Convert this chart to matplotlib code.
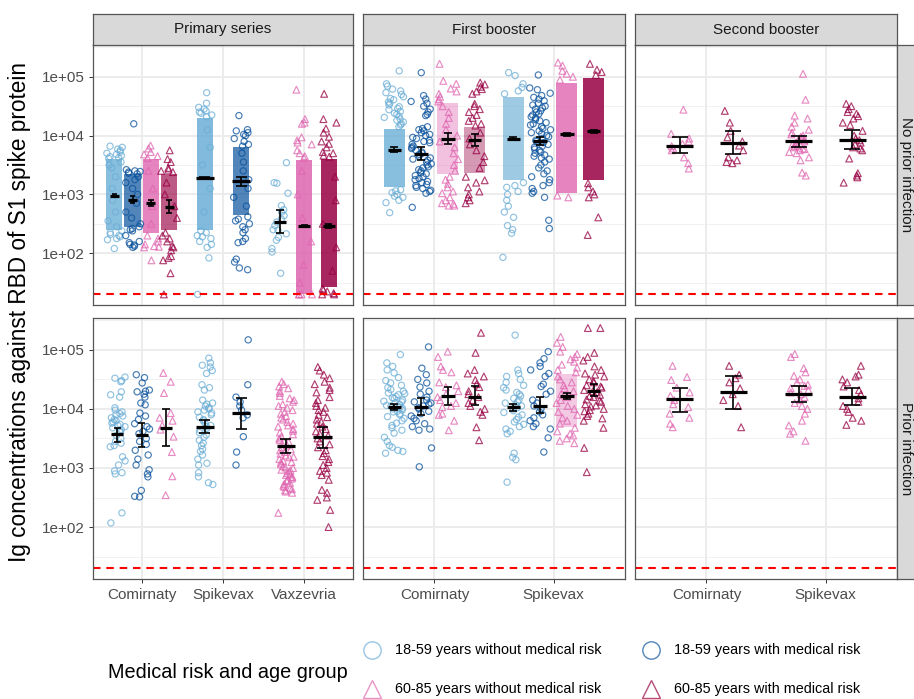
import numpy as np
import matplotlib
matplotlib.use("Agg")
import matplotlib.pyplot as plt
from matplotlib.lines import Line2D
from matplotlib.ticker import NullLocator

plt.rcParams['font.family'] = ['Liberation Sans', 'DejaVu Sans']

# ---------------- data ----------------
vaccines_primary = ["Comirnaty", "Spikevax", "Vaxzevria"]
vaccines_booster = ["Comirnaty", "Spikevax"]
group_labels = ["18-59 years without medical risk", "18-59 years with medical risk",
                "60-85 years without medical risk", "60-85 years with medical risk"]
row_labels = ["No prior infection", "Prior infection"]
col_labels = ["Primary series", "First booster", "Second booster"]
lloq = 20
y_ticks = [1e2, 1e3, 1e4, 1e5]
y_tick_labels = ["1e+02", "1e+03", "1e+04", "1e+05"]

# summary rows: (vaccine, group index, log10 GMC, log10 lower CI, log10 upper CI)
summary_noprior_primary = [
    ("Comirnaty", 0, 2.98, 2.96, 3.00),
    ("Comirnaty", 1, 2.91, 2.85, 2.97),
    ("Comirnaty", 2, 2.85, 2.80, 2.90),
    ("Comirnaty", 3, 2.79, 2.69, 2.90),
    ("Spikevax", 0, 3.28, 3.26, 3.30),
    ("Spikevax", 1, 3.22, 3.14, 3.30),
    ("Vaxzevria", 0, 2.53, 2.34, 2.73),
    ("Vaxzevria", 2, 2.46, 2.44, 2.48),
    ("Vaxzevria", 3, 2.46, 2.43, 2.49),
]
summary_noprior_first = [
    ("Comirnaty", 0, 3.76, 3.72, 3.80),
    ("Comirnaty", 1, 3.69, 3.58, 3.81),
    ("Comirnaty", 2, 3.95, 3.85, 4.05),
    ("Comirnaty", 3, 3.92, 3.82, 4.03),
    ("Spikevax", 0, 3.95, 3.93, 3.97),
    ("Spikevax", 1, 3.91, 3.84, 3.98),
    ("Spikevax", 2, 4.02, 4.00, 4.04),
    ("Spikevax", 3, 4.07, 4.04, 4.10),
]
summary_noprior_second = [
    ("Comirnaty", 2, 3.83, 3.70, 3.97),
    ("Comirnaty", 3, 3.88, 3.68, 4.08),
    ("Spikevax", 2, 3.90, 3.80, 4.00),
    ("Spikevax", 3, 3.93, 3.78, 4.10),
]
summary_prior_primary = [
    ("Comirnaty", 0, 3.57, 3.44, 3.68),
    ("Comirnaty", 1, 3.56, 3.36, 3.76),
    ("Comirnaty", 2, 3.68, 3.37, 4.00),
    ("Spikevax", 0, 3.69, 3.59, 3.81),
    ("Spikevax", 1, 3.93, 3.66, 4.19),
    ("Vaxzevria", 2, 3.37, 3.25, 3.49),
    ("Vaxzevria", 3, 3.53, 3.34, 3.69),
]
summary_prior_first = [
    ("Comirnaty", 0, 4.03, 3.98, 4.08),
    ("Comirnaty", 1, 4.04, 3.90, 4.19),
    ("Comirnaty", 2, 4.22, 4.07, 4.37),
    ("Comirnaty", 3, 4.20, 4.07, 4.39),
    ("Spikevax", 0, 4.03, 3.97, 4.09),
    ("Spikevax", 1, 4.05, 3.93, 4.20),
    ("Spikevax", 2, 4.22, 4.17, 4.27),
    ("Spikevax", 3, 4.31, 4.22, 4.42),
]
summary_prior_second = [
    ("Comirnaty", 2, 4.17, 3.95, 4.36),
    ("Comirnaty", 3, 4.29, 4.00, 4.56),
    ("Spikevax", 2, 4.25, 4.12, 4.39),
    ("Spikevax", 3, 4.20, 4.07, 4.36),
]

# densely packed parts of a cloud read as a band: (log10 low, log10 high, visual density)
cores_noprior_primary = [(2.40, 3.60, 0.8), (2.45, 3.35, 0.7), (2.35, 3.60, 0.8), (2.40, 3.35, 0.65),
                         (2.40, 4.30, 0.85), (2.65, 3.80, 0.7), None, (1.30, 3.58, 0.85), (1.42, 3.60, 0.85)]
cores_noprior_first = [(3.12, 4.12, 0.8), None, (3.35, 4.55, 0.4), (3.36, 4.14, 0.4),
                       (3.25, 4.65, 0.65), None, (3.03, 4.90, 0.8), (3.24, 4.98, 0.85)]
cores_noprior_second = [None, None, None, None]
cores_prior_primary = [None, None, None, None, None, None, None]
cores_prior_first = [None, None, None, None, None, None, (3.70, 4.60, 0.35), None]
cores_prior_second = [None, None, None, None]

# individual measurements (log10 concentration), same order as the summaries
points_noprior_primary = [
    [3.82, 3.80, 3.77, 3.75, 3.72, 3.70, 3.68, 3.66, 3.64, 3.62, 3.61, 3.55, 3.50, 3.45, 3.30, 3.10, 2.90,
     2.70, 2.55, 2.45, 2.38, 2.35, 2.32, 2.30, 2.28, 2.25, 2.23, 2.08],
    [4.20, 3.42, 3.40, 3.39, 3.38, 3.36, 3.35, 3.30, 3.25, 3.20, 3.10, 3.00, 2.85, 2.70, 2.60, 2.50, 2.45,
     2.42, 2.40, 2.38, 2.30, 2.20, 2.18, 2.15, 2.12, 2.14, 2.10],
    [3.83, 3.78, 3.72, 3.68, 3.65, 3.62, 3.40, 3.10, 2.80, 2.50, 2.30, 2.25, 2.20, 2.15, 2.12, 2.10, 2.11, 1.88],
    [3.75, 3.60, 3.55, 3.45, 3.42, 3.40, 3.38, 3.20, 3.00, 2.80, 2.60, 2.35, 2.30, 2.25, 2.20, 2.12, 2.10,
     2.05, 1.95, 1.88, 1.92, 1.66, 1.30],
    [4.73, 4.55, 4.48, 4.45, 4.42, 4.40, 4.38, 4.35, 4.32, 4.10, 3.80, 3.50, 3.10, 2.70, 2.38, 2.35, 2.30,
     2.28, 2.25, 2.20, 2.15, 2.10, 1.92, 1.30],
    [4.34, 4.10, 4.08, 4.05, 4.02, 4.00, 3.95, 3.90, 3.85, 3.82, 3.70, 3.55, 3.40, 3.25, 3.10, 2.95, 2.80,
     2.62, 2.58, 2.55, 2.50, 2.45, 2.40, 2.35, 2.25, 2.20, 2.18, 1.90, 1.85, 1.75, 1.72],
    [3.54, 3.19, 3.20, 3.02, 2.81, 2.74, 2.70, 2.64, 2.58, 2.53, 2.47, 2.40, 2.39, 2.33, 2.27, 2.22, 2.08,
     2.02, 1.66],
    [4.78, 4.28, 4.22, 4.20, 3.97, 3.92, 3.88, 3.85, 3.75, 3.70, 3.65, 3.62, 3.40, 3.00, 2.60, 2.20, 1.80,
     1.50, 1.30, 1.30, 1.30, 1.30],
    [4.71, 4.28, 4.22, 4.12, 4.05, 3.98, 3.90, 3.86, 3.80, 3.72, 3.70, 3.66, 3.64, 3.30, 2.90, 2.50, 2.10,
     1.70, 1.40, 1.38, 1.35, 1.32, 1.30, 1.30],
]
points_noprior_first = [
    [5.10, 4.88, 4.84, 4.79, 4.76, 4.73, 4.70, 4.66, 4.63, 4.61, 4.57, 4.55, 4.52, 4.49, 4.46, 4.44, 4.41,
     4.38, 4.36, 4.33, 4.31, 4.28, 4.26, 4.23, 4.20, 4.18, 4.15, 3.08, 3.06, 3.03, 3.00, 2.97, 2.95, 2.90,
     2.86, 2.69],
    [5.07, 4.68, 4.62, 4.58, 4.55, 4.50, 4.45, 4.40, 4.36, 4.34, 4.15, 4.12, 4.10, 4.08, 4.05, 4.02, 4.00,
     3.97, 3.95, 3.92, 3.90, 3.88, 3.85, 3.82, 3.80, 3.78, 3.75, 3.72, 3.70, 3.68, 3.65, 3.62, 3.60, 3.58,
     3.55, 3.52, 3.50, 3.47, 3.45, 3.42, 3.40, 3.37, 3.35, 3.32, 3.30, 3.27, 3.25, 3.22, 3.20, 3.17, 3.15,
     3.12, 3.10, 3.07, 3.05, 3.02, 2.78],
    [5.22, 4.93, 4.88, 4.80, 4.75, 4.71, 4.66, 4.62, 4.58, 4.50, 4.40, 4.30, 4.20, 4.10, 4.00, 3.90, 3.80,
     3.70, 3.60, 3.50, 3.40, 3.30, 3.25, 3.18, 3.12, 3.05, 3.02, 2.95, 2.90, 2.85, 2.81, 2.81, 2.84],
    [4.90, 4.87, 4.83, 4.79, 4.75, 4.71, 4.54, 4.50, 4.45, 4.40, 4.35, 4.30, 4.25, 4.20, 4.17, 4.05, 3.95,
     3.85, 3.75, 3.65, 3.55, 3.45, 3.30, 3.24, 3.20, 3.12, 3.05, 3.00, 2.95, 2.90, 2.85],
    [5.07, 5.02, 4.88, 4.82, 4.76, 4.71, 3.20, 3.15, 3.12, 3.05, 3.00, 2.90, 2.80, 2.70, 2.61, 2.47, 2.40,
     2.34, 1.93],
    [5.03, 4.81, 4.78, 4.72, 4.68, 4.65, 4.62, 4.59, 4.55, 4.52, 4.50, 4.47, 4.45, 4.42, 4.40, 4.37, 4.35,
     4.32, 4.30, 4.27, 4.25, 4.22, 4.20, 4.18, 4.15, 4.12, 4.10, 4.08, 4.05, 4.03, 4.00, 3.98, 3.95, 3.92,
     3.90, 3.88, 3.85, 3.82, 3.80, 3.77, 3.75, 3.72, 3.70, 3.67, 3.65, 3.62, 3.60, 3.55, 3.50, 3.45, 3.40,
     3.35, 3.30, 3.25, 3.20, 3.15, 3.10, 3.05, 3.02, 2.95, 2.56, 2.42],
    [5.24, 5.19, 5.10, 5.05, 5.00, 4.95, 2.98, 2.95],
    [5.22, 5.12, 5.08, 5.03, 3.19, 3.12, 3.05, 3.00, 2.95, 2.61, 2.31],
]
points_noprior_second = [
    [4.44, 4.03, 3.95, 3.90, 3.86, 3.82, 3.78, 3.75, 3.63, 3.53, 3.44],
    [4.42, 4.22, 4.08, 3.97, 3.90, 3.83, 3.75, 3.63, 3.58, 3.53, 3.55],
    [5.05, 4.61, 4.34, 4.29, 4.22, 4.15, 4.10, 4.05, 4.02, 4.00, 3.98, 3.95, 3.93, 3.92, 3.90, 3.88, 3.87,
     3.85, 3.83, 3.82, 3.80, 3.78, 3.77, 3.75, 3.72, 3.70, 3.63, 3.58, 3.37, 3.32],
    [4.54, 4.50, 4.45, 4.40, 4.37, 4.33, 4.29, 4.22, 4.18, 4.08, 4.00, 3.95, 3.92, 3.88, 3.85, 3.80, 3.78,
     3.75, 3.61, 3.36, 3.32, 3.29, 3.20],
]
points_prior_primary = [
    [4.54, 4.52, 4.48, 4.46, 4.29, 4.24, 4.20, 4.02, 3.98, 3.95, 3.92, 3.90, 3.88, 3.85, 3.82, 3.80, 3.78,
     3.76, 3.74, 3.72, 3.70, 3.68, 3.65, 3.62, 3.60, 3.55, 3.50, 3.45, 3.42, 3.38, 3.36, 3.19, 3.12, 3.05,
     2.95, 2.92, 2.90, 2.24, 2.07],
    [4.58, 4.53, 4.44, 4.32, 4.29, 4.30, 4.25, 4.20, 4.10, 4.07, 3.93, 3.88, 3.82, 3.75, 3.70, 3.66, 3.62,
     3.58, 3.50, 3.45, 3.40, 3.30, 3.22, 3.15, 3.05, 2.97, 2.90, 2.85, 2.62, 2.52, 2.51],
    [4.61, 4.46, 4.27, 3.93, 3.85, 3.80, 3.72, 3.65, 3.53, 3.27, 2.86, 2.54],
    [4.86, 4.78, 4.74, 4.71, 4.65, 4.60, 4.41, 4.36, 4.32, 4.15, 4.10, 4.08, 4.05, 4.02, 4.00, 3.98, 3.95,
     3.93, 3.90, 3.86, 3.82, 3.80, 3.76, 3.72, 3.70, 3.67, 3.64, 3.60, 3.56, 3.52, 3.47, 3.42, 3.38, 3.32,
     3.28, 3.22, 3.15, 3.08, 3.05, 2.92, 2.85, 2.75, 2.72],
    [5.17, 4.41, 4.20, 4.12, 4.05, 3.98, 3.90, 3.85, 3.53, 3.27, 3.05],
    [4.46, 4.42, 4.38, 4.35, 4.30, 4.27, 4.22, 4.18, 4.15, 4.12, 4.08, 4.05, 4.02, 3.98, 3.95, 3.92, 3.88,
     3.85, 3.82, 3.78, 3.75, 3.72, 3.70, 3.66, 3.63, 3.60, 3.57, 3.53, 3.50, 3.47, 3.44, 3.41, 3.38, 3.35,
     3.32, 3.30, 3.27, 3.24, 3.21, 3.18, 3.15, 3.12, 3.10, 3.06, 3.03, 3.00, 2.97, 2.94, 2.91, 2.88, 2.85,
     2.82, 2.78, 2.75, 2.70, 2.66, 2.62, 2.58, 3.01, 2.96, 2.89, 3.09, 3.19, 2.84, 2.79, 2.73, 2.68, 2.64,
     2.60, 2.24],
    [4.71, 4.65, 4.58, 4.52, 4.46, 4.42, 4.36, 4.32, 4.28, 4.20, 4.15, 4.10, 4.05, 4.02, 3.98, 3.95, 3.90,
     3.86, 3.82, 3.78, 3.75, 3.70, 3.66, 3.62, 3.58, 3.55, 3.50, 3.45, 3.40, 3.35, 3.30, 3.25, 3.20, 3.15,
     3.10, 3.05, 3.00, 2.95, 2.92, 2.88, 2.80, 2.63, 2.58, 2.50, 2.46, 2.29, 2.00],
]
points_prior_first = [
    [4.92, 4.78, 4.72, 4.66, 4.61, 4.53, 4.48, 4.44, 4.40, 4.36, 4.33, 4.30, 4.27, 4.24, 4.21, 4.18, 4.15,
     4.12, 4.10, 4.08, 4.05, 4.03, 4.00, 3.98, 3.95, 3.92, 3.90, 3.87, 3.84, 3.80, 3.76, 3.72, 3.68, 3.64,
     3.59, 3.52, 3.45, 3.38, 3.30, 3.25, 3.28, 3.35, 4.26, 4.19, 4.13, 4.06, 4.01, 3.96],
    [5.05, 4.69, 4.58, 4.50, 4.44, 4.37, 4.30, 4.25, 4.20, 4.15, 4.12, 4.10, 4.08, 4.05, 4.02, 4.00, 3.96,
     3.92, 3.88, 3.84, 3.80, 3.75, 3.70, 3.66, 3.64, 3.34, 3.02],
    [4.97, 4.88, 4.72, 4.66, 4.62, 4.45, 4.40, 4.37, 4.30, 4.25, 4.20, 4.15, 4.10, 4.05, 4.03, 3.92, 3.90,
     3.80, 3.64],
    [5.29, 4.95, 4.66, 4.60, 4.55, 4.49, 4.42, 4.37, 4.30, 4.25, 4.20, 4.15, 4.10, 4.05, 4.00, 3.95, 3.90,
     3.69, 3.47],
    [5.25, 4.66, 4.60, 4.55, 4.50, 4.45, 4.40, 4.36, 4.32, 4.28, 4.25, 4.22, 4.18, 4.15, 4.12, 4.10, 4.07,
     4.05, 4.02, 4.00, 3.97, 3.94, 3.90, 3.86, 3.82, 3.78, 3.74, 3.70, 3.66, 3.62, 3.58, 3.25, 3.18, 3.14,
     2.76],
    [4.97, 4.85, 4.78, 4.72, 4.66, 4.60, 4.55, 4.42, 4.38, 4.30, 4.25, 4.15, 4.10, 4.05, 4.00, 3.95, 3.90,
     3.85, 3.80, 3.75, 3.70, 3.66, 3.51, 3.27],
    [5.22, 5.12, 5.05, 4.97, 4.93, 4.88, 4.84, 4.80, 4.75, 4.70, 4.66, 4.62, 4.55, 4.50, 4.45, 4.40, 4.35,
     4.30, 4.25, 4.20, 4.15, 4.10, 4.05, 4.00, 3.95, 3.90, 3.85, 3.80, 3.75, 3.68, 3.62, 3.58, 3.55, 3.50,
     3.46, 3.42],
    [5.37, 5.37, 4.95, 4.88, 4.82, 4.72, 4.66, 4.60, 4.55, 4.50, 4.45, 4.40, 4.36, 4.32, 4.28, 4.24, 4.20,
     4.16, 4.12, 4.08, 4.04, 4.00, 3.96, 3.92, 3.88, 3.84, 3.80, 3.68, 3.34, 2.93, 4.58, 4.47, 4.38, 4.30,
     4.22, 4.14, 4.06, 3.98],
]
points_prior_second = [
    [4.73, 4.54, 4.49, 4.36, 4.28, 4.22, 4.15, 4.08, 4.03, 3.92, 3.85, 3.75, 3.69],
    [4.73, 4.58, 4.52, 4.45, 4.35, 4.25, 4.15, 4.05, 3.69],
    [4.93, 4.88, 4.69, 4.62, 4.56, 4.50, 4.45, 4.41, 4.39, 4.35, 4.32, 4.28, 4.25, 4.20, 4.15, 4.10, 4.05,
     4.00, 3.92, 3.80, 3.72, 3.62, 3.58, 3.46],
    [4.73, 4.58, 4.55, 4.50, 4.45, 4.38, 4.32, 4.25, 4.18, 4.12, 4.05, 4.00, 3.95, 3.85, 3.80, 3.73],
]

# ---------------- style ----------------
group_colors = ["#6BAED6", "#08519C", "#DF65B0", "#980043"]
group_markers = ["o", "o", "^", "^"]
W, H = 914, 699
fig = plt.figure(figsize=(W / 100, H / 100), dpi=100)


def fx(px):
    return px / W


def fy(py):
    return 1 - py / H


def jitter_frac(n, seed):
    # deterministic, hash-like spread of horizontal positions (layout only)
    i = np.arange(n) + seed * 17.0
    return (np.sin(i * 12.9898 + 78.233) * 43758.5453) % 1.0


col_x = [(93, 353), (363, 625), (635, 897)]
row_y = [(45, 305), (318, 579)]
col_vaccines = [vaccines_primary, vaccines_booster, vaccines_booster]
col_jitter = [0.10, 0.088, 0.088]
panel_data = {
    (0, 0): (summary_noprior_primary, points_noprior_primary, cores_noprior_primary),
    (0, 1): (summary_noprior_first, points_noprior_first, cores_noprior_first),
    (0, 2): (summary_noprior_second, points_noprior_second, cores_noprior_second),
    (1, 0): (summary_prior_primary, points_prior_primary, cores_prior_primary),
    (1, 1): (summary_prior_first, points_prior_first, cores_prior_first),
    (1, 2): (summary_prior_second, points_prior_second, cores_prior_second),
}
YLO, YHI = 10 ** 1.12, 10 ** 5.54
tick_color = "#4D4D4D"
border_color = "#555555"

seed = 0
for (r, c), (summary, points, cores) in panel_data.items():
    x0, x1 = col_x[c]
    y0, y1 = row_y[r]
    ax = fig.add_axes([fx(x0), fy(y1), fx(x1 - x0), (y1 - y0) / H])
    vaccines = col_vaccines[c]
    ax.set_yscale("log")
    ax.set_ylim(YLO, YHI)
    ax.set_xlim(0.4, len(vaccines) + 0.6)
    ax.yaxis.set_minor_locator(NullLocator())
    # grid
    for e in [1.5, 2.5, 3.5, 4.5, 5.5]:
        ax.axhline(10 ** e, color="#F2F2F2", lw=0.7, zorder=0)
    for t in y_ticks:
        ax.axhline(t, color="#EBEBEB", lw=1.3, zorder=0)
    for i in range(len(vaccines)):
        ax.axvline(i + 1, color="#EBEBEB", lw=1.3, zorder=0)
    ax.axhline(lloq, color="red", lw=1.5, ls=(0, (3.6, 2.8)), zorder=6)

    present = {}
    for (vac, g, *_rest) in summary:
        present.setdefault(vac, []).append(g)
    jw = col_jitter[c]
    for idx, (vac, g, gm, lo, hi) in enumerate(summary):
        seed += 1
        gs = sorted(present[vac])
        n = len(gs)
        k = gs.index(g)
        slot = 0.9 / n
        xg = vaccines.index(vac) + 1 + (k - (n - 1) / 2) * slot
        col = group_colors[g]
        core = cores[idx]
        if core is not None:
            clo, chi, dens = core
            ax.bar(xg, 10 ** chi - 10 ** clo, bottom=10 ** clo, width=2 * jw,
                   color=col, alpha=dens, lw=0, zorder=2)
        vals = np.array(points[idx], dtype=float)
        frac = jitter_frac(len(vals), seed)
        xs = xg + (frac - 0.5) * 2 * jw
        ax.scatter(xs, 10 ** vals, marker=group_markers[g], s=20 if g < 2 else 24,
                   facecolors="none", edgecolors=col, linewidths=0.85, alpha=0.75, zorder=3)
        cw = 0.15 * slot
        mw = 0.25 * slot
        ax.vlines(xg, 10 ** lo, 10 ** hi, color="black", lw=1.2, zorder=7)
        ax.hlines([10 ** lo, 10 ** hi], xg - cw, xg + cw, color="black", lw=1.2, zorder=7)
        ax.hlines(10 ** gm, xg - mw, xg + mw, color="black", lw=2.3, zorder=8)

    for sp in ax.spines.values():
        sp.set_color(border_color)
        sp.set_linewidth(0.9)
        sp.set_zorder(10)
    ax.tick_params(axis="both", colors="#333333", length=2.8, width=0.7,
                   labelcolor=tick_color, labelsize=11, pad=3)
    ax.set_xticks(range(1, len(vaccines) + 1))
    if r == 1:
        ax.set_xticklabels(vaccines)
        ax.tick_params(axis="x", pad=4)
    else:
        ax.set_xticklabels([])
        ax.tick_params(axis="x", length=0)
    ax.set_yticks(y_ticks)
    if c == 0:
        ax.set_yticklabels(y_tick_labels)
    else:
        ax.set_yticklabels([])
        ax.tick_params(axis="y", length=0)

    # strips
    if r == 0:
        sax = fig.add_axes([fx(x0), fy(45), fx(x1 - x0), 31 / H])
        sax.set_xticks([]); sax.set_yticks([])
        sax.set_facecolor("#D9D9D9")
        for sp in sax.spines.values():
            sp.set_color(border_color); sp.set_linewidth(0.9)
        sax.text(0.5, 0.5, col_labels[c], ha="center", va="center", fontsize=11,
                 color="#1A1A1A", transform=sax.transAxes)
    if c == 2:
        rax = fig.add_axes([fx(897), fy(y1), fx(31), (y1 - y0) / H])
        rax.set_xticks([]); rax.set_yticks([])
        rax.set_facecolor("#D9D9D9")
        for sp in rax.spines.values():
            sp.set_color(border_color); sp.set_linewidth(0.9)
        fig.text(fx(906), fy((y0 + y1) / 2), row_labels[r], ha="center", va="center",
                 fontsize=11, color="#1A1A1A", rotation=-90)

# y axis title
fig.text(fx(20), fy(312), "Ig concentrations against RBD of S1 spike protein",
         rotation=90, ha="center", va="center", fontsize=16.3, color="black")

# legend
fig.text(fx(108), fy(672), "Medical risk and age group", ha="left", va="center",
         fontsize=14.3, color="black")
key_pos = [(372, 650), (651, 650), (372, 689), (651, 689)]
for g, (kx, ky) in enumerate(key_pos):
    fig.add_artist(Line2D([fx(kx)], [fy(ky)], marker=group_markers[g], markersize=12.5,
                          markerfacecolor="none", markeredgecolor=group_colors[g],
                          markeredgewidth=1.0, alpha=0.7, linestyle="none",
                          transform=fig.transFigure))
    fig.text(fx(kx + 23), fy(ky), group_labels[g], ha="left", va="center",
             fontsize=10.4, color="black")

fig.savefig("out.png", dpi=100)
